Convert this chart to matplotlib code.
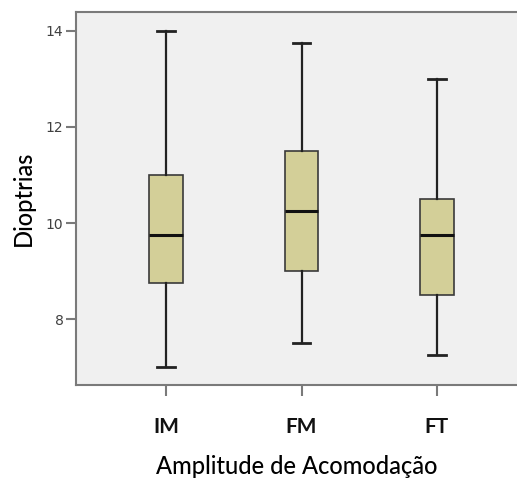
import matplotlib
matplotlib.use("Agg")
import matplotlib.pyplot as plt

# Resumo dos boxplots por grupo
grupos = ["IM", "FM", "FT"]
minimos = [7.0, 7.5, 7.25]
q1 = [8.75, 9.0, 8.5]
medianas = [9.75, 10.25, 9.75]
q3 = [11.0, 11.5, 10.5]
maximos = [14.0, 13.75, 13.0]

stats = []
for i, g in enumerate(grupos):
    stats.append({"label": g, "whislo": minimos[i], "q1": q1[i], "med": medianas[i],
                  "q3": q3[i], "whishi": maximos[i], "fliers": []})

fig = plt.figure(figsize=(5.17, 4.86), dpi=100)
ax = fig.add_axes([76 / 517, 101 / 486, (517 - 76) / 517, 373 / 486])
ax.set_facecolor("#f0f0f0")

ax.bxp(stats, positions=[1, 2, 3], widths=0.25, capwidths=0.13, patch_artist=True,
       boxprops=dict(facecolor="#d3cf98", edgecolor="#3a3a3a", linewidth=1.2),
       medianprops=dict(color="#111111", linewidth=2.2),
       whiskerprops=dict(color="#222222", linewidth=1.6),
       capprops=dict(color="#222222", linewidth=2.0))

ax.set_xlim(1 - 90 / 135, 3 + 80 / 135)
ax.set_ylim(8 - 66 / 48, 14 + 19 / 48)
ax.set_yticks([8, 10, 12, 14])

for s in ["left", "bottom", "top"]:
    ax.spines[s].set_color("#7a7a7a")
    ax.spines[s].set_linewidth(1.5)
ax.spines["right"].set_visible(False)

ax.tick_params(axis="y", length=7, width=1.5, color="#7a7a7a", labelsize=10,
               labelcolor="#404040", pad=2)
ax.tick_params(axis="x", length=8, width=1.5, color="#7a7a7a", pad=15)
ax.set_xticklabels(grupos, fontsize=15, family="Lato", fontweight="bold", color="#111111")

ax.set_xlabel("Amplitude de Acomodação", fontsize=17, family="Lato", fontweight="medium",
              labelpad=13)
ax.set_ylabel("Dioptrias", fontsize=17, family="Lato", fontweight="medium", labelpad=8)

fig.savefig("out.png", dpi=100)
